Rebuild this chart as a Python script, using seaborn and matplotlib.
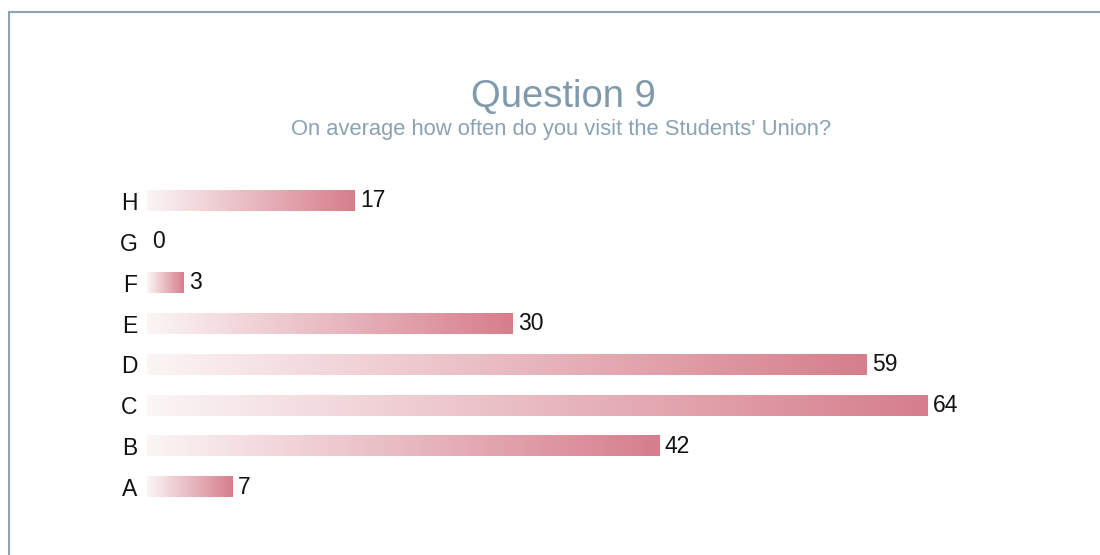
import numpy as np
import pandas as pd
import matplotlib
matplotlib.use("Agg")
import matplotlib.pyplot as plt
from matplotlib.colors import LinearSegmentedColormap
from matplotlib.lines import Line2D
import seaborn as sns

# Survey answers
categories = ["A", "B", "C", "D", "E", "F", "G", "H"]
counts = [7, 42, 64, 59, 30, 3, 0, 17]
display_order = ["H", "G", "F", "E", "D", "C", "B", "A"]

title_text = "Question 9"
subtitle_text = "On average how often do you visit the Students' Union?"

sns.set_theme(style="white")
plt.rcParams["font.family"] = ["Liberation Sans", "DejaVu Sans"]

df = pd.DataFrame({"option": categories, "count": counts})

fig = plt.figure(figsize=(11, 5.55), dpi=100)
fig.patch.set_facecolor("white")
ax = fig.add_axes([147 / 1100, 1 - 507.5 / 555, 854 / 1100, 327 / 555])

sns.barplot(data=df, y="option", x="count", order=display_order,
            orient="h", width=0.5, color="#d67e8c", ax=ax, saturation=1)

# Horizontal white-to-rose gradient for each bar
grad_cmap = LinearSegmentedColormap.from_list("rose", ["#fbf5f6", "#d67e8c"])
gradient = np.linspace(0, 1, 256).reshape(1, -1)
for patch in ax.patches:
    x0, y0 = patch.get_x(), patch.get_y()
    w, h = patch.get_width(), patch.get_height()
    patch.set_facecolor("none")
    patch.set_edgecolor("none")
    if w <= 0:
        continue
    ax.imshow(gradient, cmap=grad_cmap, aspect="auto", interpolation="bicubic",
              extent=[x0, x0 + w, y0 + h, y0], zorder=2)

for container in ax.containers:
    ax.bar_label(container, labels=[f"{int(v)}" for v in container.datavalues],
                 padding=4, fontsize=16.5, color="#111111")

ax.set_xlim(0, 70)
ax.set_ylim(7.5, -0.5)
ax.set_xlabel("")
ax.set_ylabel("")
ax.set_xticks([])
ax.tick_params(axis="y", length=0, pad=7, labelsize=16.5, labelcolor="#111111")
for s in ax.spines.values():
    s.set_visible(False)
ax.set_facecolor("none")

fig.text(563 / 1100, 1 - 97 / 555, title_text, ha="center", va="center",
         fontsize=27.5, color="#7f9aab")
fig.text(561 / 1100, 1 - 129 / 555, subtitle_text, ha="center", va="center",
         fontsize=15.8, color="#8aa2b2")

# Frame edges along the top and left
fig.add_artist(Line2D([9 / 1100, 1], [1 - 12 / 555, 1 - 12 / 555],
                      transform=fig.transFigure, color="#8ea3b0", lw=1.5))
fig.add_artist(Line2D([9 / 1100, 9 / 1100], [0, 1 - 12 / 555],
                      transform=fig.transFigure, color="#8ea3b0", lw=1.5))

fig.savefig("out.png", dpi=100, facecolor="white")
